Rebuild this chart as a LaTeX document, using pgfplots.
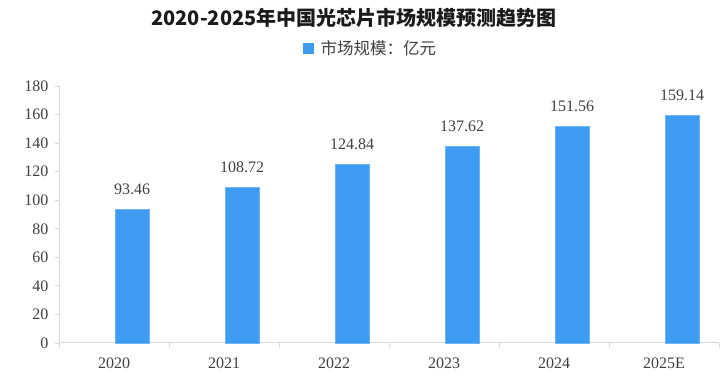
\documentclass[border=0pt]{standalone}
\usepackage{fontspec}
\setmainfont{Liberation Serif}
\newfontfamily\cjk{Noto Sans CJK SC}
\usepackage{pgfplots}
\pgfplotsset{compat=1.18}
\definecolor{barblue}{RGB}{61,155,242}
\definecolor{baredge}{RGB}{110,180,246}
\definecolor{axisgray}{RGB}{217,217,217}
\definecolor{labelgray}{RGB}{64,64,64}
\begin{document}
\begin{tikzpicture}[x=1pt,y=1pt]
\useasboundingbox (-59,-39) rectangle (661,343);
\begin{axis}[
  at={(0,0)}, anchor=south west,
  scale only axis, width=660pt, height=257pt,
  xmin=-0.5, xmax=5.5, ymin=0, ymax=180,
  axis x line*=bottom, axis y line*=left,
  axis line style={draw=axisgray, line width=1pt},
  xtick={0,1,2,3,4,5},
  xticklabels={2020,2021,2022,2023,2024,2025E},
  minor xtick={-0.5,0.5,1.5,2.5,3.5,4.5,5.5},
  ytick={0,20,...,180},
  tick align=outside,
  major tick length=4pt, minor tick length=5pt,
  every major x tick/.style={draw=none},
  every tick/.style={draw=axisgray, line width=0.8pt},
  tick label style={font=\fontsize{16}{16}\selectfont, text=labelgray},
  xticklabel style={yshift=-7pt},
  yticklabel style={xshift=-3pt},
  /pgf/number format/assume math mode=true,
  ybar, bar width=34pt,
  nodes near coords,
  nodes near coords style={font=\fontsize{16}{16}\selectfont, text=labelgray,
    /pgf/number format/fixed, /pgf/number format/fixed zerofill,
    /pgf/number format/precision=2, yshift=11pt},
  legend style={at={(0.3697,1.148)}, anchor=west, draw=none, fill=none,
    font=\cjk\fontsize{16.5}{16.5}\selectfont, text=labelgray, inner sep=0pt,
    /tikz/every even column/.append style={column sep=0pt}},
  legend cell align=left,
  clip=false,
]
\addplot[fill=barblue, draw=baredge, line width=0.8pt, forget plot] coordinates {
  (0,93.46) (1,108.72) (2,124.84) (3,137.62) (4,151.56) (5,159.14)
};
\addlegendimage{legend image code/.code={\fill[barblue] (0pt,-5pt) rectangle (10pt,5pt);}}
\addlegendentry{\hspace{5pt}市场规模：亿元}
\end{axis}
\node[font=\cjk\bfseries\fontsize{20}{20}\selectfont, text={rgb,255:red,26;green,26;blue,26}] at (295,325) {2020-2025年中国光芯片市场规模预测趋势图};
\end{tikzpicture}
\end{document}
